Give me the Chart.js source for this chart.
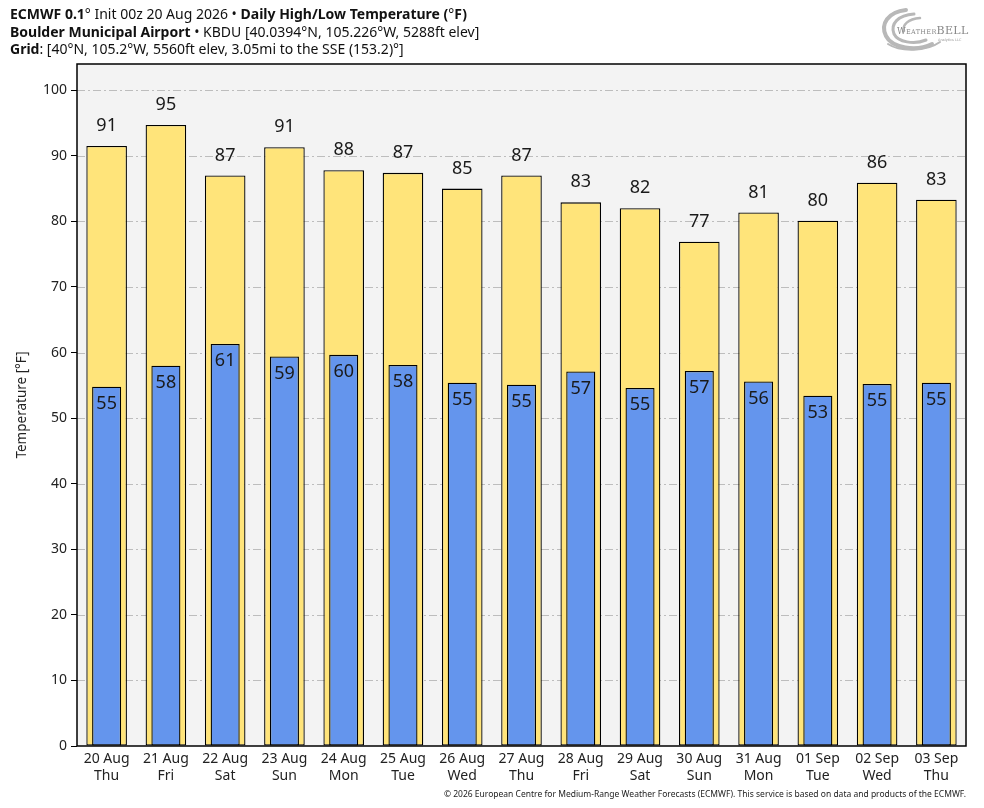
<!DOCTYPE html>
<html>
<head>
<meta charset="utf-8">
<script src="https://cdn.jsdelivr.net/npm/chart.js@4.4.1/dist/chart.umd.min.js"></script>
<style>
  html, body { margin:0; padding:0; background:#fff; }
  body { width:984px; height:808px; position:relative; overflow:hidden; font-family:"Noto Sans", "Open Sans", sans-serif; color:#111; }
  #hdr { position:absolute; left:10px; top:5px; font-size:14px; line-height:17.5px; white-space:nowrap; }
  #hdr b { font-weight:700; }
  #foot { position:absolute; right:18px; top:788px; font-size:8.5px; color:#222; white-space:nowrap; }
  #wrap { position:absolute; left:0; top:0; width:984px; height:808px; }
  #logo { position:absolute; left:876px; top:4px; }
</style>
</head>
<body>
<div id="wrap"><canvas id="c" width="984" height="808"></canvas></div>
<div id="hdr">
  <div><b>ECMWF 0.1</b>° Init 00z 20 Aug 2026 • <b>Daily High/Low Temperature (</b>°<b>F)</b></div>
  <div><b>Boulder Municipal Airport</b> • KBDU [40.0394°N, 105.226°W, 5288ft elev]</div>
  <div><b>Grid</b>: [40°N, 105.2°W, 5560ft elev, 3.05mi to the SSE (153.2)°]</div>
</div>
<svg id="logo" width="96" height="50" viewBox="0 0 96 50">
  <g fill="none" stroke="#b8b8b8" stroke-linecap="round">
    <path d="M30 6 C12 8 4 20 10 32 C16 44 40 48 56 40" stroke-width="4"/>
    <path d="M38 10 C22 11 14 20 18 30 C22 38 38 41 50 36" stroke-width="3"/>
    <path d="M44 14 C32 15 26 21 28 27" stroke-width="2.5"/>
    <path d="M12 40 C24 48 50 48 64 38" stroke-width="2"/>
  </g>
  <text x="21" y="30" font-family="DejaVu Serif, serif" font-size="8.5" fill="#888" letter-spacing="0.3">W<tspan font-size="6.5">EATHER</tspan><tspan font-size="11">BELL</tspan></text>
  <text x="62" y="37" font-family="DejaVu Sans" font-size="3.5" fill="#999">Analytics LLC</text>
</svg>
<div id="foot">© 2026 European Centre for Medium-Range Weather Forecasts (ECMWF). This service is based on data and products of the ECMWF.</div>
<script>
const dates = ["20 Aug","21 Aug","22 Aug","23 Aug","24 Aug","25 Aug","26 Aug","27 Aug","28 Aug","29 Aug","30 Aug","31 Aug","01 Sep","02 Sep","03 Sep"];
const weekdays = ["Thu","Fri","Sat","Sun","Mon","Tue","Wed","Thu","Fri","Sat","Sun","Mon","Tue","Wed","Thu"];
const highTemps = [91.5, 94.7, 87.0, 91.3, 87.8, 87.4, 85.0, 87.0, 82.9, 82.0, 76.9, 81.35, 80.1, 85.9, 83.3];
const lowTemps  = [54.8, 58.0, 61.3, 59.4, 59.65, 58.1, 55.4, 55.1, 57.1, 54.6, 57.2, 55.6, 53.4, 55.2, 55.4];
const highLabels = ["91","95","87","91","88","87","85","87","83","82","77","81","80","86","83"];
const lowLabels  = ["55","58","61","59","60","58","55","55","57","55","57","56","53","55","55"];
const yTicks = [0,10,20,30,40,50,60,70,80,90,100];

const FONT = '"Noto Sans", "Open Sans", sans-serif';

const bgGridPlugin = {
  id: 'bgGrid',
  beforeDatasetsDraw(chart) {
    const {ctx, chartArea:a, scales:{y}} = chart;
    ctx.save();
    ctx.fillStyle = '#f3f3f3';
    ctx.fillRect(a.left, a.top, a.right - a.left, a.bottom - a.top);
    ctx.strokeStyle = '#bdbdbd';
    ctx.lineWidth = 1;
    ctx.setLineDash([8, 3, 2, 3]);
    yTicks.forEach(v => {
      if (v === 0) return;
      const py = Math.round(y.getPixelForValue(v)) + 0.5;
      ctx.beginPath(); ctx.moveTo(a.left, py); ctx.lineTo(a.right, py); ctx.stroke();
    });
    ctx.restore();
  },
  afterDraw(chart) {
    const {ctx, chartArea:a} = chart;
    ctx.save();
    ctx.strokeStyle = '#000';
    ctx.lineWidth = 1.5;
    ctx.strokeRect(a.left, a.top, a.right - a.left, a.bottom - a.top);
    ctx.restore();
  }
};

const labelPlugin = {
  id: 'valLabels',
  afterDatasetsDraw(chart) {
    const {ctx} = chart;
    ctx.save();
    ctx.font = '18px ' + FONT;
    ctx.fillStyle = '#1a1a1a';
    ctx.textAlign = 'center';
    ctx.textBaseline = 'middle';
    const lowMeta = chart.getDatasetMeta(0);
    const highMeta = chart.getDatasetMeta(1);
    highMeta.data.forEach((el, i) => ctx.fillText(highLabels[i], el.x, el.y - 20));
    lowMeta.data.forEach((el, i) => ctx.fillText(lowLabels[i], el.x, el.y + 17));
    ctx.restore();
  }
};

new Chart(document.getElementById('c'), {
  type: 'bar',
  data: {
    labels: dates.map((d, i) => [d, weekdays[i]]),
    datasets: [
      { label: 'Low', data: lowTemps, backgroundColor: '#6495ED', borderColor: '#000', borderWidth: 1.3,
        borderSkipped: false, barPercentage: 0.49, categoryPercentage: 1, grouped: false, order: 0 },
      { label: 'High', data: highTemps, backgroundColor: '#FFE47A', borderColor: '#000', borderWidth: 1.3,
        borderSkipped: false, barPercentage: 0.685, categoryPercentage: 1, grouped: false, order: 1 }
    ]
  },
  options: {
    responsive: false,
    animation: false,
    devicePixelRatio: 1,
    layout: { padding: { top: 64, left: 10, right: 18, bottom: 12 } },
    plugins: { legend: { display: false }, tooltip: { enabled: false }, title: { display: false } },
    scales: {
      x: {
        grid: { display: false, drawOnChartArea: false },
        border: { display: false },
        ticks: { color: '#222', font: { family: FONT, size: 14 }, padding: -3, maxRotation: 0, autoSkip: false },
        afterFit(s) { s.height = 50; }
      },
      y: {
        min: 0, max: 104,
        border: { display: false },
        grid: { drawOnChartArea: false, drawTicks: true, tickLength: 6, tickColor: '#000', lineWidth: 1 },
        ticks: { stepSize: 10, includeBounds: false, color: '#222', font: { family: FONT, size: 14 }, padding: 4 },
        afterBuildTicks(s) { s.ticks = yTicks.map(v => ({ value: v })); },
        title: { display: true, text: 'Temperature [°F]', color: '#222', font: { family: FONT, size: 13.5 }, padding: { top: 4, bottom: 0 } },
        afterFit(s) { s.width = 67; }
      }
    }
  },
  plugins: [bgGridPlugin, labelPlugin]
});
</script>
</body>
</html>
